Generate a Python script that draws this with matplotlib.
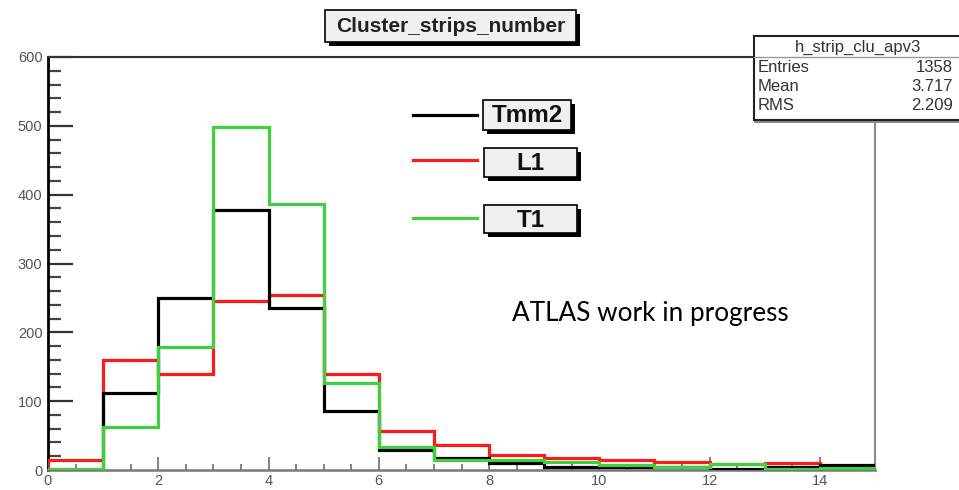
import numpy as np
import matplotlib
matplotlib.use("Agg")
import matplotlib.pyplot as plt
from matplotlib.patches import Rectangle
from matplotlib.lines import Line2D
from matplotlib.ticker import MultipleLocator

# Cluster size histograms (number of strips per cluster), unit bins 0..15
bin_edges = np.arange(0, 16)
tmm2_counts = [0, 112, 250, 378, 236, 86, 29, 18, 10, 5, 4, 4, 2, 4, 7]
l1_counts = [15, 160, 140, 246, 254, 139, 56, 36, 22, 17, 14, 11, 8, 10, 5]
t1_counts = [2, 63, 178, 498, 387, 127, 34, 15, 15, 11, 7, 5, 8, 2, 3]

series_names = ["Tmm2", "L1", "T1"]
series_colors = ["#000000", "#ff1a1a", "#3fcf3f"]

x_ticks = [0, 2, 4, 6, 8, 10, 12, 14]
y_ticks = [0, 100, 200, 300, 400, 500, 600]

title_text = "Cluster_strips_number"
stats_title = "h_strip_clu_apv3"
stats_rows = [("Entries", "1358"), ("Mean", "3.717"), ("RMS", "2.209")]
note_text = "ATLAS work in progress"

W, H = 959, 490
fig = plt.figure(figsize=(W / 100, H / 100), dpi=100)


def fx(px):
    return px / W


def fy(py):
    return 1 - py / H


def box(x0, y0, x1, y1, face, edge="black", lw=1.2, z=5):
    r = Rectangle((fx(x0), fy(y1)), (x1 - x0) / W, (y1 - y0) / H,
                  transform=fig.transFigure, facecolor=face, edgecolor=edge,
                  linewidth=lw, zorder=z)
    fig.patches.append(r)


# Frame
ax_l, ax_r, ax_t, ax_b = 48, 875, 57, 470
ax = fig.add_axes([fx(ax_l), fy(ax_b), (ax_r - ax_l) / W, (ax_b - ax_t) / H])
ax.set_xlim(0, 15)
ax.set_ylim(0, 600)

counts = {"Tmm2": tmm2_counts, "L1": l1_counts, "T1": t1_counts}
draw_order = ["L1", "Tmm2", "T1"]
for name in draw_order:
    c = series_colors[series_names.index(name)]
    ax.stairs(counts[name], bin_edges, color=c, linewidth=2.3, zorder=3)

ax.spines["left"].set_color("black")
ax.spines["left"].set_linewidth(2.0)
ax.spines["bottom"].set_color("#777777")
ax.spines["bottom"].set_linewidth(1.8)
ax.spines["top"].set_color("#333333")
ax.spines["top"].set_linewidth(1.5)
ax.spines["right"].set_color("#888888")
ax.spines["right"].set_linewidth(1.5)

ax.set_xticks(x_ticks)
ax.set_yticks(y_ticks)
ax.xaxis.set_minor_locator(MultipleLocator(0.5))
ax.yaxis.set_minor_locator(MultipleLocator(20))
ax.tick_params(axis="y", which="major", direction="in", length=18, width=1.6,
               color="#333333", pad=4, labelsize=10.5, labelcolor="#555555")
ax.tick_params(axis="y", which="minor", direction="in", length=9.5, width=1.6,
               color="#444444")
ax.tick_params(axis="x", which="major", direction="in", length=9.5, width=1.3,
               color="#777777", pad=3, labelsize=10.5, labelcolor="#555555")
ax.tick_params(axis="x", which="minor", direction="in", length=4.5, width=1.3,
               color="#777777")
for lab in ax.get_xticklabels() + ax.get_yticklabels():
    lab.set_fontfamily("Liberation Sans")

# Histogram title box
box(329, 14, 580, 46, "black", lw=0, z=4)
box(325, 10, 576, 42, "#f0f0f0", z=5)
fig.text(fx(450.5), fy(27), title_text, ha="center", va="center",
         fontsize=15, fontweight="bold", family="Liberation Sans",
         color="#222222", zorder=6)

# Legend entries: line sample and a shadowed label box
legend_lines_y = [115, 160, 218]
legend_boxes = [(483, 100, 571, 130), (484, 148, 577, 177), (484, 205, 577, 233)]
for name, c, ly, (bx0, by0, bx1, by1) in zip(series_names, series_colors,
                                            legend_lines_y, legend_boxes):
    fig.add_artist(Line2D([fx(413), fx(477)], [fy(ly), fy(ly)],
                          transform=fig.transFigure, color=c, linewidth=2.3))
    box(bx0 + 4, by0 + 4, bx1 + 4, by1 + 4, "black", lw=0, z=4)
    box(bx0, by0, bx1, by1, "#f0f0f0", z=5)
    fig.text(fx((bx0 + bx1) / 2), fy((by0 + by1) / 2 + 1), name,
             ha="center", va="center", fontsize=17.5, fontweight="bold",
             family="Liberation Sans", color="#111111", zorder=6)

# Statistics box
box(754, 36, 962, 123, "#888888", lw=0, z=4)
box(754, 36, 962, 120, "white", edge="#222222", lw=1.5, z=5)
fig.add_artist(Line2D([fx(754), fx(962)], [fy(57), fy(57)],
                      transform=fig.transFigure, color="#999999", linewidth=1.0,
                      zorder=6))
fig.text(fx(858), fy(47), stats_title, ha="center", va="center", fontsize=12,
         family="Liberation Sans", color="#333333", zorder=6)
for i, (k, v) in enumerate(stats_rows):
    yy = 68 + i * 18.5
    fig.text(fx(758), fy(yy), k, ha="left", va="center", fontsize=12,
             family="Liberation Sans", color="#333333", zorder=6)
    fig.text(fx(953), fy(yy), v, ha="right", va="center", fontsize=12,
             family="Liberation Sans", color="#333333", zorder=6)

# Annotation
fig.text(fx(512), fy(313), note_text, ha="left", va="center", fontsize=18.8,
         family="Lato", color="black", zorder=6)

fig.savefig("out.png", dpi=100)
